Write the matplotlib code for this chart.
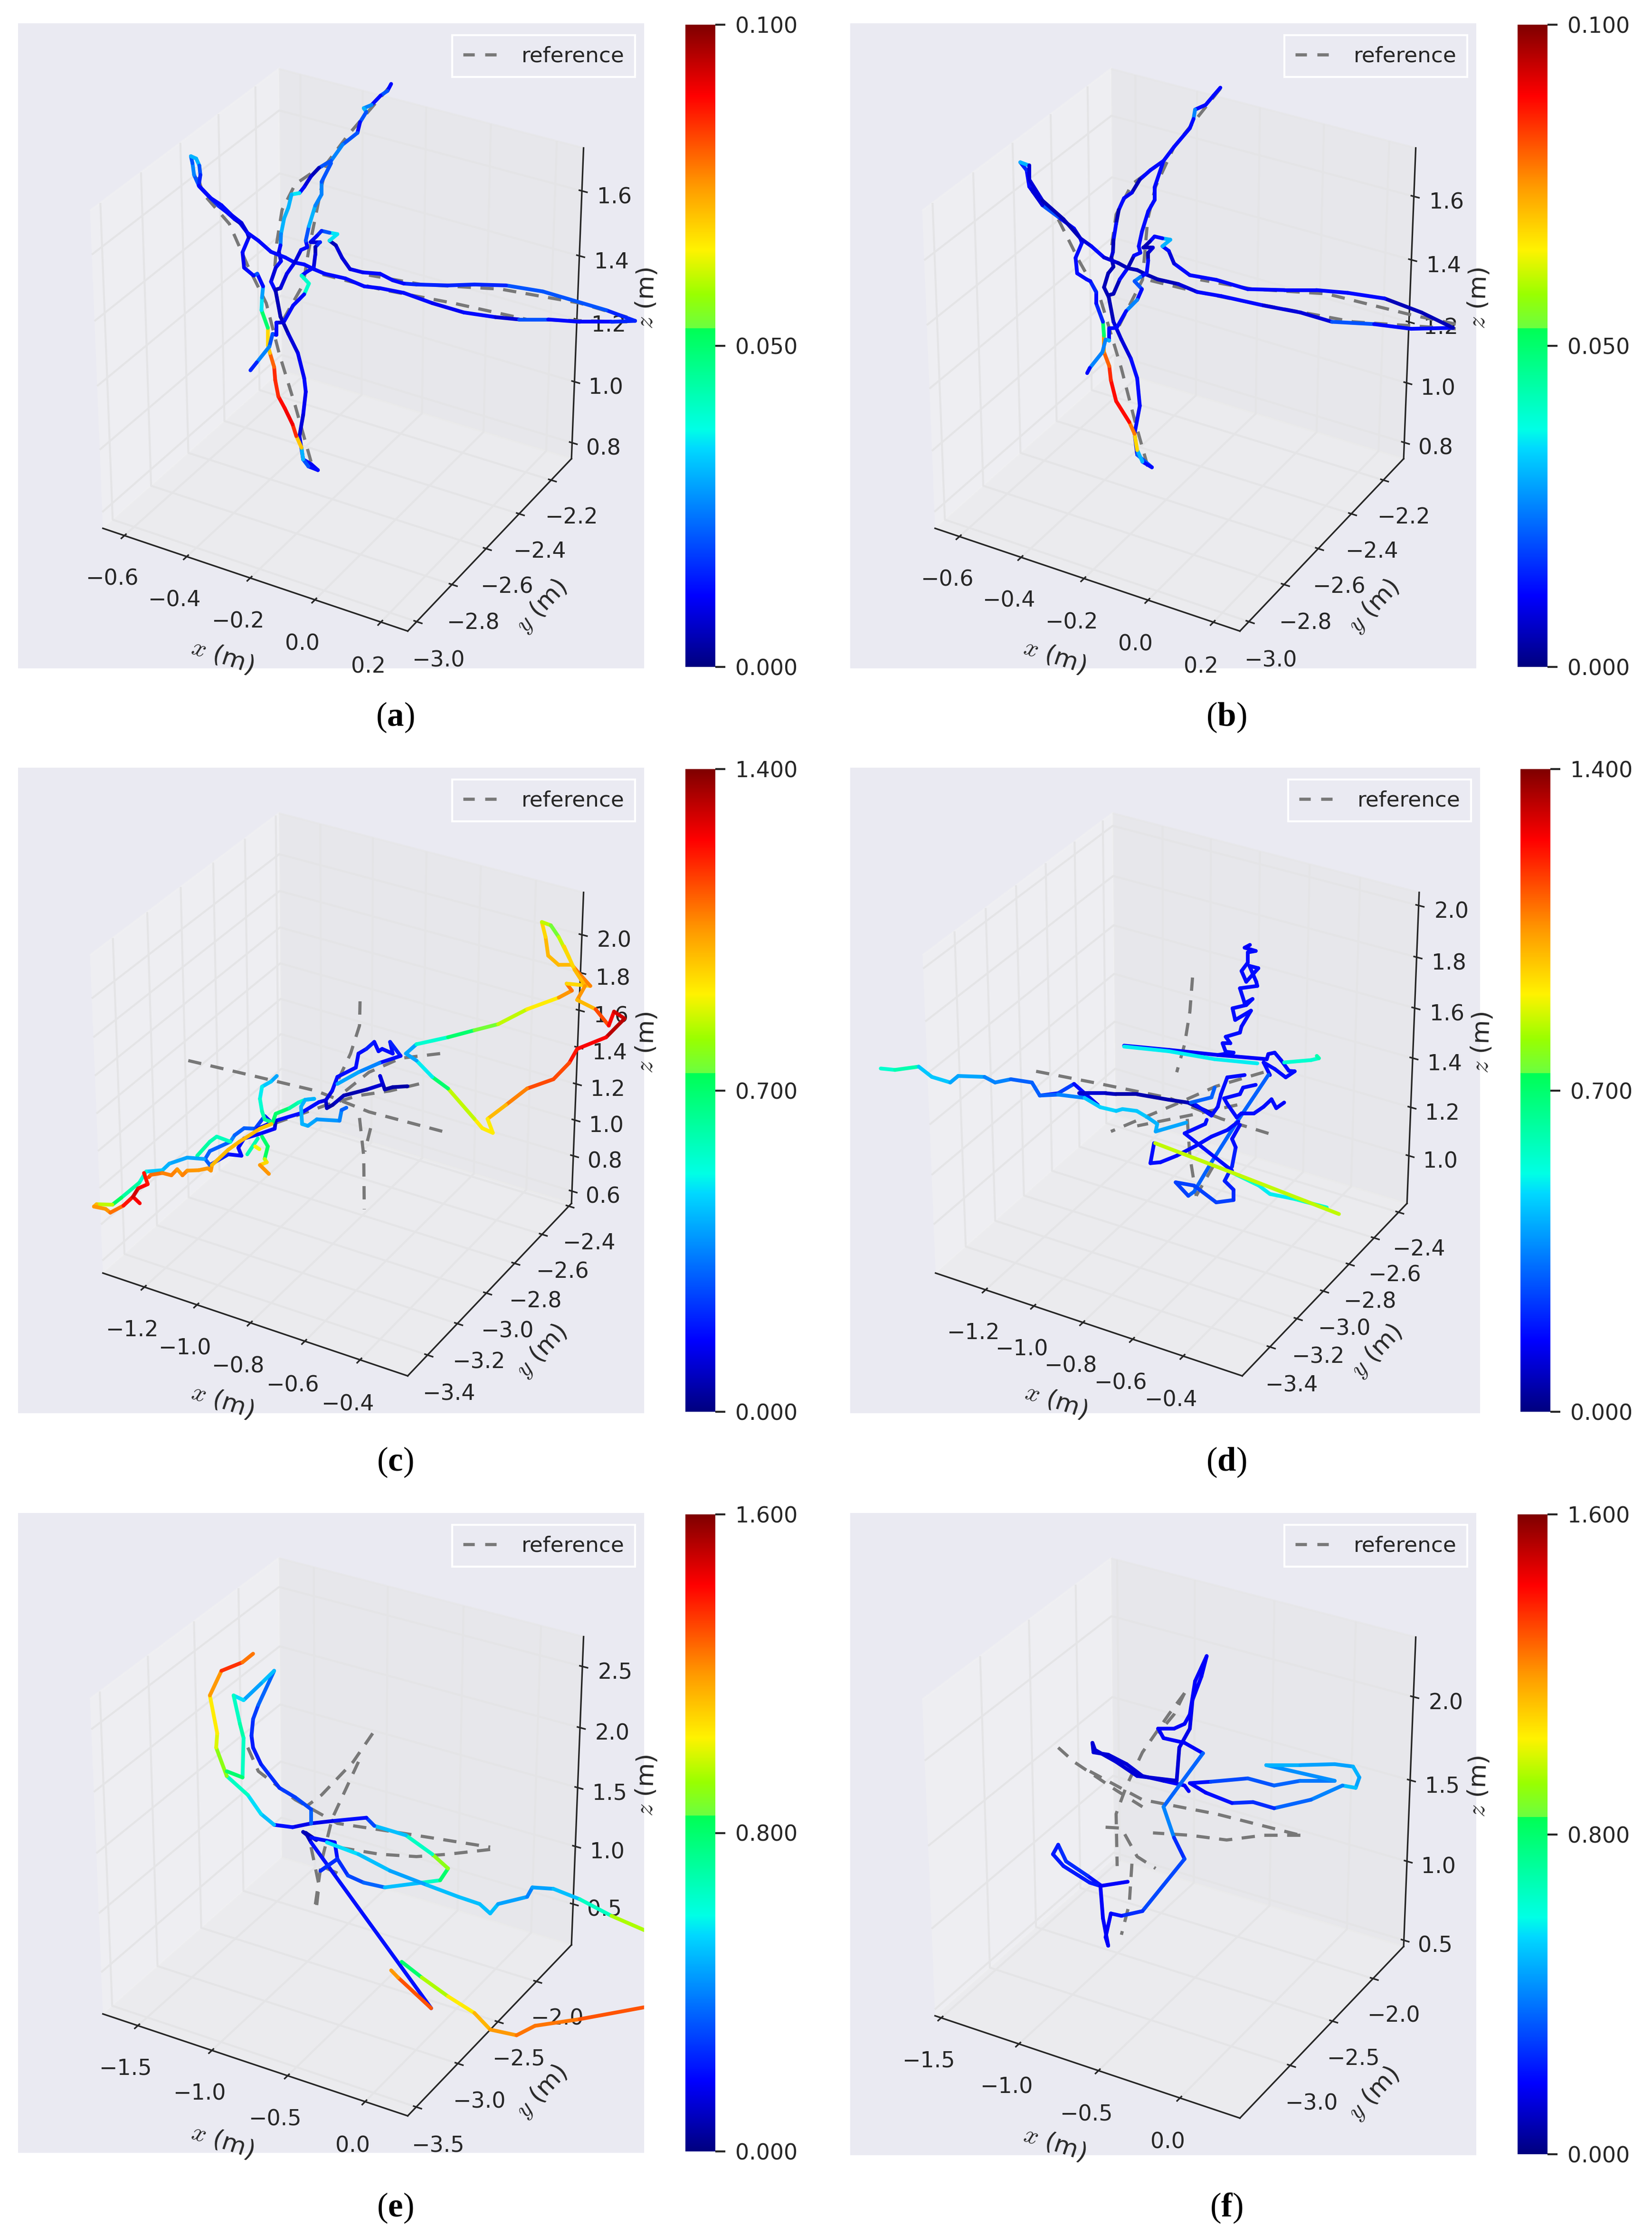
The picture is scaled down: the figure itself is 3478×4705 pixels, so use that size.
import matplotlib
matplotlib.use("Agg")
import matplotlib.pyplot as plt
from matplotlib.collections import LineCollection
from matplotlib.cm import ScalarMappable
from matplotlib.colors import LinearSegmentedColormap, Normalize
from matplotlib.lines import Line2D
from matplotlib.patches import Rectangle
from mpl_toolkits.mplot3d import Axes3D
import numpy as np

W, H = 3478, 4705
plt.rcParams['font.family'] = 'DejaVu Sans'
plt.rcParams['font.size'] = 11
plt.rcParams['text.color'] = '#262626'
plt.rcParams['axes.labelcolor'] = '#262626'
plt.rcParams['axes.edgecolor'] = '#262626'
plt.rcParams['xtick.color'] = '#262626'
plt.rcParams['ytick.color'] = '#262626'
plt.rcParams['grid.color'] = '#e4e4e6'
plt.rcParams['grid.linewidth'] = 1.0
plt.rcParams['mathtext.fontset'] = 'custom'
plt.rcParams['mathtext.rm'] = 'Liberation Serif'
plt.rcParams['mathtext.bf'] = 'Liberation Serif:bold'

BG = '#eaeaf2'

# the page's jet has a visible step just above the middle
page_jet = LinearSegmentedColormap.from_list('page_jet', [
    (0, (0, 0, .5)), (.11, (0, 0, 1)), (.34, (0, .85, 1)), (.37, (0, 1, .9)), (.527, (0, 1, .33)), (.5275, (.42, 1, .25)),
    (.58, (.6, 1, 0)), (.65, (1, .95, 0)), (.75, (1, .6, 0)), (.89, (1, 0, 0)), (1, (.5, 0, 0))], N=512)

# tick values of each panel
x_ticks = {'a': [-0.6, -0.4, -0.2, 0.0, 0.2], 'b': [-0.6, -0.4, -0.2, 0.0, 0.2],
           'c': [-1.2, -1.0, -0.8, -0.6, -0.4], 'd': [-1.2, -1.0, -0.8, -0.6, -0.4],
           'e': [-1.5, -1.0, -0.5, 0.0], 'f': [-1.5, -1.0, -0.5, 0.0]}
y_ticks = {'a': [-3.0, -2.8, -2.6, -2.4, -2.2], 'b': [-3.0, -2.8, -2.6, -2.4, -2.2],
           'c': [-3.4, -3.2, -3.0, -2.8, -2.6, -2.4], 'd': [-3.4, -3.2, -3.0, -2.8, -2.6, -2.4],
           'e': [-3.5, -3.0, -2.5, -2.0], 'f': [-3.0, -2.5, -2.0]}
z_ticks = {'a': [0.8, 1.0, 1.2, 1.4, 1.6], 'b': [0.8, 1.0, 1.2, 1.4, 1.6],
           'c': [0.6, 0.8, 1.0, 1.2, 1.4, 1.6, 1.8, 2.0], 'd': [1.0, 1.2, 1.4, 1.6, 1.8, 2.0],
           'e': [0.5, 1.0, 1.5, 2.0, 2.5], 'f': [0.5, 1.0, 1.5, 2.0]}
# axis limits
x_lims = {'a': (-0.67, 0.28), 'b': (-0.68, 0.28), 'c': (-1.36, -0.23), 'd': (-1.41, -0.17), 'e': (-1.74, 0.27), 'f': (-1.54, 0.36)}
y_lims = {'a': (-3.05, -2.07), 'b': (-3.05, -2.07), 'c': (-3.53, -2.38), 'd': (-3.6, -2.33), 'e': (-3.6, -1.53), 'f': (-3.57, -1.61)}
z_lims = {'a': (0.747, 1.73), 'b': (0.745, 1.75), 'c': (0.53, 2.22), 'd': (0.8, 2.05), 'e': (0.14, 2.74), 'f': (0.46, 2.35)}
err_max = {'a': 0.1, 'b': 0.1, 'c': 1.4, 'd': 1.4, 'e': 1.6, 'f': 1.6}

# panel boxes in output pixels (x0, y0, x1, y1) and the same box in trace units
panel_px = {'a': (38, 49, 1356, 1407), 'b': (1790, 49, 3108, 1407), 'c': (38, 1616, 1356, 2975),
            'd': (1790, 1616, 3116, 2975), 'e': (38, 3185, 1356, 4532), 'f': (1790, 3185, 3108, 4537)}
panel_tr = {'a': (34, 50, 1222, 1433), 'b': (45, 50, 1234, 1433), 'c': (34, 47, 1222, 1431),
            'd': (45, 47, 1241, 1431), 'e': (34, 45, 1222, 1395), 'f': (45, 45, 1234, 1400)}
cbar_px = {'a': (1443, 52, 1506, 1404), 'b': (3195, 52, 3258, 1404), 'c': (1443, 1619, 1506, 2972),
           'd': (3201, 1619, 3264, 2972), 'e': (1443, 3188, 1506, 4529), 'f': (3195, 3188, 3258, 4535)}
caption_px = {'a': (832, 1510), 'b': (2582, 1510), 'c': (832, 3078), 'd': (2582, 3078), 'e': (832, 4648), 'f': (2582, 4648)}

# estimated trajectories as seen on the page: (across, down, error)
path_a = [(742,180,.012),(735,195,.02),(722,205,.012),(705,225,.025),(690,232,.03),(695,240,.02),(683,262,.012),(678,285,.02),(650,310,.025),
          (628,345,.02),(605,360,.005),(590,378,.008),(577,401,.012),(568,414,.035),(553,417,.03),(547,445,.03),(539,468,.03),(533,502,.025),
          (532,526,.012),(529,540,.008),(533,560,.012),(523,574,.008),(514,604,.012),(523,625,.005),(532,679,.005),(547,716,.008),(565,757,.01),
          (577,811,.012),(580,840,.01),(575,890,.008),(568,935,.01),(575,985,.012),(590,995,.01),(603,1008,.012)]
path2_a = [(603,1008,.012),(585,1000,.02),(575,985,.03),(572,960,.07),(562,935,.085),(555,910,.09),(540,875,.088),(528,850,.085),(522,815,.085),
           (520,787,.08),(512,757,.07),(508,740,.068),(508,703,.05),(496,665,.035),(497,638,.028),(499,614,.012),(488,587,.02),(481,591,.012),
           (463,574,.01),(460,541,.012),(472,509,.006),(469,499,.012),(455,478,.005),(445,470,.012),(430,455,.012),(415,442,.015),(395,420,.012),
           (378,400,.02),(368,375,.025),(365,350,.02),(362,335,.03),(372,340,.03),(378,355,.02),(380,375,.015),(377,398,.012),(400,425,.012),
           (420,440,.012),(440,462,.01),(458,478,.008),(469,499,.012),(490,516,.012),(514,540,.012),(541,552,.012),(559,563,.012),(577,567,.012),
           (595,577,.012),(616,587,.012),(655,597,.012),(691,614,.012),(721,618,.012),(766,628,.012),(820,650,.01),(880,670,.012),(940,680,.008),
           (985,685,.02),(1040,685,.012),(1100,690,.012),(1160,690,.015),(1205,688,.015),(1150,665,.02),(1090,645,.02),(1030,625,.02),(960,612,.015),
           (900,610,.015),(850,612,.015),(790,610,.015),(766,608,.012),(745,601,.012),(721,587,.012),(688,584,.01),(664,577,.008),(649,553,.008),
           (637,526,.005),(625,516,.035),(640,502,.035),(625,499,.02),(610,495,.015),(601,506,.012),(589,519,.008),(607,519,.015),(598,530,.005),
           (598,546,.008),(595,574,.012),(583,582,.012),(572,591,.04),(586,608,.04),(577,631,.012),(556,655,.012),(538,691,.008),(524,692,.012),
           (524,718,.012),(517,716,.02),(511,743,.025),(487,777,.015),(475,794,.01)]
path3_a = [(523,621,.005),(532,618,.008),(544,587,.01),(559,563,.008),(571,536,.012),(583,530,.012),(580,516,.02),(586,485,.03),(598,441,.025),
           (610,417,.025),(610,390,.02),(628,350,.02)]
ref_a = [(590,990),(560,870),(530,760),(505,650),(470,570),(435,480),(385,415),(370,360)]
ref2_a = [(740,185),(660,290),(620,350),(610,400),(585,540),(575,610),(535,690)]
ref3_a = [(625,345),(560,395),(535,450),(525,520),(520,590)]
ref4_a = [(1190,680),(1100,650),(950,620),(800,610),(700,590)]
ref5_a = [(1190,690),(1000,685),(860,650),(720,620),(600,585)]

path_b = [(748,188,.012),(735,205,.012),(720,225,.012),(700,235,.025),(697,255,.012),(690,275,.012),(660,315,.012),(640,345,.012),(615,365,.012),
          (595,385,.005),(580,413,.01),(565,425,.012),(555,450,.005),(550,480,.012),(545,515,.005),(544,540,.008),(541,552,.005),(545,572,.005),
          (535,586,.005),(527,616,.005),(536,637,.005),(545,690,.008),(560,728,.008),(578,769,.012),(590,811,.012),(595,870,.012),(585,930,.012),
          (590,975,.02),(618,1002,.012)]
path2_b = [(618,1002,.012),(600,990,.03),(590,965,.068),(585,930,.078),(575,905,.088),(550,860,.088),(540,815,.085),(537,785,.08),(527,755,.075),
           (527,720,.05),(525,690,.015),(512,650,.012),(512,626,.015),(501,603,.012),(494,599,.012),(476,586,.012),(473,553,.012),(485,521,.012),
           (482,511,.008),(470,490,.012),(440,465,.02),(410,440,.008),(385,400,.012),(380,365,.015),(368,348,.03),(385,355,.008),(385,385,.008),
           (410,430,.005),(450,470,.005),(482,511,.008),(503,528,.012),(527,552,.008),(554,564,.005),(572,575,.005),(590,579,.005),(608,589,.005),
           (629,599,.005),(668,609,.008),(704,626,.012),(750,635,.012),(830,655,.008),(900,670,.008),(960,690,.02),(1040,695,.012),(1110,705,.012),
           (1190,703,.005),(1130,670,.005),(1060,640,.012),(990,628,.012),(930,622,.012),(870,622,.012),(800,620,.012),(740,600,.012),(690,590,.012),
           (660,565,.008),(650,538,.012),(638,528,.03),(653,514,.03),(638,511,.012),(623,507,.012),(614,518,.005),(602,531,.005),(620,531,.008),
           (611,542,.005),(611,558,.012),(608,586,.012),(596,594,.025),(585,603,.02),(599,620,.012),(590,643,.025),(569,667,.012),(551,703,.012),
           (537,704,.012),(537,730,.03),(530,728,.025),(524,755,.025),(500,789,.012),(495,800,.008)]
path3_b = [(536,633,.005),(545,630,.005),(557,599,.012),(572,575,.005),(584,548,.012),(596,542,.012),(593,528,.012),(599,497,.012),(611,453,.012),
           (623,429,.012),(623,402,.012),(640,345,.012)]
ref_b = [(610,1000),(585,900),(560,790),(520,640),(480,560),(440,470),(390,410)]
ref2_b = [(748,190),(660,315),(625,400),(610,470),(600,600),(555,700)]
ref3_b = [(640,345),(580,395),(550,460),(540,540)]
ref4_b = [(1195,695),(1110,675),(950,630),(810,620),(710,600)]
ref5_b = [(1195,705),(1000,690),(810,650),(700,625),(610,600)]

path_c = [(773,730,.05),(745,732,.05),(730,737,.07),(721,708,.12),(726,726,.1),(696,737,.06),(652,750,.08),(631,770,.05),(620,777,.08),(618,760,.12),
          (605,764,.17),(570,788,.17),(523,804,.1),(521,821,.15),(493,832,.17),(463,842,.17),(452,862,.17),(458,879,.17),(433,876,.2),(398,899,.3),
          (389,886,.3),(398,869,.3),(437,849,.35),(445,835,.3),(463,820,.3),(484,821,.25),(502,794,.17),(515,808,.15),(489,821,.15)]
path2_c = [(525,708,.4),(514,720,.45),(497,731,.5),(493,757,.55),(497,784,.6),(502,801,.65),(517,808,.7),(523,789,.7),(549,777,.62),(566,765,.58),
           (579,759,.45),(596,757,.42),(579,759,.42),(571,774,.42),(573,811,.42),(584,815,.4),(601,801,.38),(644,804,.35),(648,781,.3),(657,776,.27)]
path3_c = [(618,760,.12),(630,740,.17),(640,710,.17),(675,690,.17),(680,660,.17),(695,650,.2),(710,635,.17),(718,655,.17),(725,650,.17),(745,660,.17),
           (740,635,.2),(760,665,.17),(720,680,.35),(680,700,.4),(640,725,.35)]
path4_c = [(374,879,.62),(398,849,.6),(411,838,.58),(437,849,.55)]
path5_c = [(387,886,.4),(355,883,.4),(321,896,.42),(308,910,.45),(277,913,.55),(264,937,.62),(230,969,.72),(213,984,.85),(183,983,1.0),(178,988,1.05),
           (200,993,1.05),(209,1001,1.1),(234,986,1.22),(252,967,1.25),(265,981,1.33)]
path6_c = [(252,967,1.3),(262,949,1.25),(280,940,1.22),(273,916,1.22)]
path7_c = [(282,925,1.15),(286,920,1.1),(308,916,1.08),(325,921,1.08),(336,908,1.05),(346,921,1.08),(355,911,1.05),(377,910,1.05),(394,906,1.05),
           (400,911,1.05),(402,899,1.0),(433,866,1.0),(454,849,1.0),(493,821,.98),(515,811,.92)]
path8_c = [(497,838,.7),(508,859,.72),(502,886,.85),(506,893,.95),(493,899,1.05),(510,918,1.1)]
path9_c = [(469,876,.6),(489,842,.62)]
path10_c = [(484,859,.9),(492,865,.9)]
path11_c = [(770,660,.4),(790,640,.55),(850,625,.7),(900,610,.75),(945,597,.85),(1000,565,.92),(1060,540,1.05),(1085,525,1.1),
            (1075,510,.95),(1120,515,1.08),(1100,490,1.1),(1085,470,1.0),(1060,470,1.0),(1040,450,1.0),(1035,410,.95),(1028,378,.85),
            (1045,385,.75),(1060,410,.85),(1080,455,.9),(1070,430,.95),(1090,480,1.0),(1110,515,1.05),(1095,545,1.0),(1130,565,1.15),
            (1155,600,1.25),(1165,570,1.3),(1185,585,1.33),(1150,625,1.25),(1095,650,1.22),(1080,680,1.15),(1050,715,1.15),(1000,735,1.08),
            (960,770,1.0),(925,800,.92),(935,830,.92),(915,820,.92),(900,800,.85),(850,735,.7),(820,710,.5),(790,675,.4),(770,660,.3)]
ref_c = [(683,548),(682,600),(665,660),(640,720)]
ref2_c = [(682,798),(690,880),(691,994)]
ref3_c = [(703,820),(692,870)]
ref4_c = [(357,675),(470,705),(600,740),(700,785),(850,830)]
ref5_c = [(835,660),(760,670),(700,700),(650,745)]
ref6_c = [(795,725),(740,740),(680,750),(620,770),(520,810)]

path_d = [(103,692,.55),(130,695,.6),(175,688,.45),(200,710,.45),(235,722,.4),(250,708,.4),(300,710,.35),(320,722,.35),(350,715,.3),
          (390,722,.3),(405,750,.2),(440,745,.25),(470,725,.17),(490,745,.15),(515,770,.14),(480,745,.1),(530,745,.08),(550,747,.06),(589,747,.06),
          (650,759,.06),(686,765,.08),(731,788,.08)]
path2_d = [(804,427,.15),(794,433,.15),(815,440,.17),(800,443,.17),(800,465,.17),(788,483,.17),(797,506,.17),(820,477,.17),(803,472,.17),(816,506,.17),
           (818,515,.17),(785,520,.17),(794,552,.17),(809,543,.17),(797,556,.17),(771,563,.17),(776,588,.17),(806,568,.17),(788,602,.17),(785,615,.17),
           (758,624,.17),(767,638,.17),(752,638,.17),(758,656,.17),(773,658,.17),(743,663,.17)]
path3_d = [(565,643,.17),(650,652,.15),(743,663,.15),(836,672,.15),(839,661,.15),(851,658,.17),(863,674,.17),(878,697,.17),(889,698,.17),(872,711,.17),
           (851,693,.17),(830,679,.17),(842,706,.2)]
path4_d = [(565,645,.5),(650,655,.5),(737,672,.5),(818,681,.5)]
path5_d = [(869,679,.55),(920,674,.55),(935,670,.6),(931,665,.6)]
path6_d = [(839,706,.3),(782,802,.3),(731,893,.3),(698,956,.3),(687,965,.25),(663,936,.25),(698,943,.25),(740,979,.25),(773,974,.22),(773,952,.2),
           (756,933,.2),(761,922,.2),(770,902,.2),(777,861,.17),(770,843,.17),(785,813,.17)]
path7_d = [(869,765,.15),(854,777,.17),(845,758,.17),(830,774,.17),(812,788,.17),(788,788,.17),(779,797,.17),(761,768,.17),(755,756,.17),(785,747,.17),
           (791,733,.17),(815,727,.17)]
path8_d = [(794,706,.17),(761,711,.17),(749,747,.17),(743,774,.17),(731,793,.17),(701,770,.17)]
path9_d = [(692,765,.3),(731,754,.3),(737,733,.3)]
path10_d = [(405,750,.3),(440,748,.35),(490,755,.45),(520,775,.47),(550,783,.45),(562,779,.45),(589,783,.45),(610,797,.42),(628,811,.42),(625,827,.4),(683,808,.35)]
path11_d = [(722,802,.17),(719,811,.17),(680,831,.17),(770,911,.17)]
path12_d = [(782,806,.17),(761,824,.17),(731,838,.17),(701,858,.17),(665,879,.17),(634,893,.17),(615,895,.17),(622,852,.17)]
path13_d = [(770,915,.55),(821,943,.5),(842,961,.5),(890,972,.55),(950,990,.7)]
path14_d = [(624,852,.85),(770,915,.85),(973,1004,.85)]
ref_d = [(695,497),(690,570),(680,640),(665,700)]
ref2_d = [(685,800),(690,880),(702,965)]
ref3_d = [(735,900),(702,965)]
ref4_d = [(398,698),(520,725),(650,755),(750,800),(850,835)]
ref5_d = [(830,700),(740,730),(660,770),(540,827)]
ref6_d = [(780,770),(700,790),(590,815)]

path_e = [(583,725,.06),(575,718,.08),(600,735,.06),(580,720,.08),(590,740,.2),(818,1090,.18)]
path2_e = [(818,1090,1.3),(755,1025,1.2),(742,1010,.65)]
path3_e = [(762,992,.8),(800,1025,.95),(850,1065,1.05),(900,1100,1.15),(930,1135,1.2),(980,1147,1.25),(1015,1127,1.25),(1100,1113,1.3),(1222,1088,1.4)]
path4_e = [(590,730,.2),(635,740,.2),(640,775,.2),(608,800,.25),(640,775,.25),(660,810,.3),(690,825,.35),(730,835,.5),(800,825,.65),
           (835,820,.8),(850,795,.9),(820,765,.65),(770,725,.5),(710,705,.3),(695,688,.2),(630,695,.15),(590,700,.15),(555,708,.2),
           (520,703,.5),(495,680,.55),(470,640,.65),(430,600,.9),(410,540,1.0),(412,510,1.05),(398,430,1.2),(420,378,1.35),(460,360,1.25),(480,342,1.2)]
path5_e = [(620,740,.55),(680,765,.5),(740,800,.45),(810,830,.5),(870,855,.5),(910,870,.5),(930,890,.5),(945,870,.45),(1000,855,.4),
           (1010,835,.45),(1050,838,.5),(1100,860,.65),(1160,895,.95),(1222,925,1.1)]
path6_e = [(590,700,.35),(590,670,.3),(560,645,.28),(530,625,.25),(495,575,.22),(480,540,.22),(477,515,.25),(480,480,.28),(490,450,.35),(520,378,.5),
           (495,405,.45),(462,440,.55),(443,430,.65),(455,490,.7),(462,520,.65),(460,603,.8),(430,590,.9)]
ref_e = [(707,510),(670,570),(610,640),(580,665)]
ref2_e = [(680,570),(630,690),(610,780),(597,880)]
ref3_e = [(470,540),(490,590),(560,650),(640,700),(760,720),(930,750)]
ref4_e = [(930,755),(850,765),(790,770),(720,765),(640,750)]
ref5_e = [(590,750),(605,830),(600,880)]
ref6_e = [(640,805),(610,790)]

path_f = [(688,632,.17),(680,620,.17),(640,610,.12),(600,600,.12),(570,575,.12),(535,555,.12),(507,550,.12),(505,530,.12),(510,545,.12),
          (550,570,.12),(590,600,.12),(665,610,.12),(670,540,.15),(690,500,.15),(695,440,.17),(712,390,.17),(722,347,.17),(700,400,.17),
          (690,470,.17),(680,490,.17),(660,500,.17),(630,500,.17),(640,520,.17),(680,530,.17),(715,552,.35),(640,665,.4),(660,730,.25),
          (680,775,.3),(640,830,.3),(600,885,.25),(560,895,.2),(540,890,.17),(530,940,.17),(535,958,.17),(525,900,.17),(520,830,.2),
          (495,810,.25),(455,780,.25),(440,745,.22),(430,765,.22),(450,790,.22),(500,825,.22),(520,832,.17),(572,823,.1)]
path2_f = [(690,615,.2),(730,612,.3),(800,605,.32),(850,620,.35),(900,610,.38),(965,610,.42),(835,577,.48),(900,577,.45),(965,575,.45),
           (1000,580,.48),(1012,603,.45),(1005,625,.5),(980,620,.4),(920,650,.35),(850,668,.25),(810,655,.25),(770,657,.2),(720,635,.17),(690,615,.17)]
ref_f = [(440,540),(470,570),(550,630),(600,665)]
ref2_f = [(500,590),(600,650),(740,680),(900,725)]
ref3_f = [(900,725),(830,725),(760,735),(690,725),(620,720)]
ref4_f = [(680,425),(650,470),(600,550),(570,620),(550,680),(552,790)]
ref5_f = [(680,425),(660,470),(630,510)]
ref6_f = [(530,708),(560,710),(590,770),(625,795)]
ref7_f = [(580,785),(575,870),(560,935)]

paths = {'a': [path_a, path2_a, path3_a], 'b': [path_b, path2_b, path3_b],
         'c': [path_c, path2_c, path3_c, path4_c, path5_c, path6_c, path7_c, path8_c, path9_c, path10_c, path11_c],
         'd': [path_d, path2_d, path3_d, path4_d, path5_d, path6_d, path7_d, path8_d, path9_d, path10_d, path11_d, path12_d, path13_d, path14_d],
         'e': [path_e, path2_e, path3_e, path4_e, path5_e, path6_e], 'f': [path_f, path2_f]}
refs = {'a': [ref_a, ref2_a, ref3_a, ref4_a, ref5_a], 'b': [ref_b, ref2_b, ref3_b, ref4_b, ref5_b],
        'c': [ref_c, ref2_c, ref3_c, ref4_c, ref5_c, ref6_c], 'd': [ref_d, ref2_d, ref3_d, ref4_d, ref5_d, ref6_d],
        'e': [ref_e, ref2_e, ref3_e, ref4_e, ref5_e, ref6_e], 'f': [ref_f, ref2_f, ref3_f, ref4_f, ref5_f, ref6_f, ref7_f]}


def fig_rect(box):
    x0, y0, x1, y1 = box
    return [x0 / W, 1 - y1 / H, (x1 - x0) / W, (y1 - y0) / H]


fig = plt.figure(figsize=(W / 300, H / 300), dpi=300)

for name in 'abcdef':
    rect = fig_rect(panel_px[name])
    fig.add_artist(Rectangle(rect[:2], rect[2], rect[3], transform=fig.transFigure, facecolor=BG, edgecolor='none', zorder=-1))

    # the frame
    x0, y0, x1, y1 = panel_px[name]
    ax = fig.add_axes(fig_rect((x0 + 3, y0 + 6, x1 + 3, y1 + 6)), projection='3d', zorder=1)
    ax.apply_aspect = lambda position=None: None  # stretch box to the panel like older matplotlib
    ax.set_box_aspect((1, 1, 1), zoom=0.945)
    ax.view_init(30, -60)
    ax.patch.set_visible(False)
    ax.set_xlim(*x_lims[name], view_margin=0)
    ax.set_ylim(*y_lims[name], view_margin=0)
    ax.set_zlim(*z_lims[name], view_margin=0)
    ax.set_xticks(x_ticks[name])
    ax.set_yticks(y_ticks[name])
    ax.set_zticks(z_ticks[name])
    ax.tick_params(axis='both', labelsize=11)
    ax.set_xlabel('$x$ (m)', math_fontfamily='cm', labelpad=6, fontsize=12.5)
    ax.set_ylabel('$y$ (m)', math_fontfamily='cm', labelpad=6, fontsize=12.5)
    ax.set_zlabel('$z$ (m)', math_fontfamily='cm', labelpad=4, fontsize=12.5)

    # trajectories on top of the frame
    tr = panel_tr[name]
    over = fig.add_axes(rect, zorder=2)
    over.patch.set_visible(False)
    over.set_axis_off()
    over.set_xlim(tr[0], tr[2])
    over.set_ylim(tr[3], tr[1])
    for r in refs[name]:
        r = np.array(r)
        over.plot(r[:, 0], r[:, 1], color='#787878', lw=1.6, ls=(0, (4.2, 3.0)))
    norm = Normalize(0, err_max[name])
    for p in paths[name]:
        p = np.array(p)
        pts = p[:, :2].reshape(-1, 1, 2)
        segs = np.concatenate([pts[:-1], pts[1:]], axis=1)
        lc = LineCollection(segs, cmap=page_jet, norm=norm, linewidths=1.9, capstyle='round', joinstyle='round')
        lc.set_array(p[:-1, 2])
        over.add_collection(lc)
    handle = Line2D([], [], color='#787878', lw=1.6, ls=(0, (3.6, 3.3)))
    leg = over.legend([handle], ['reference'], loc='upper right', bbox_to_anchor=(1 - 19 / 1318, 1 - 25 / 1358),
                      borderaxespad=0, frameon=True, fancybox=False, facecolor=BG, edgecolor='white', framealpha=1,
                      fontsize=10.9, handlelength=1.6, handletextpad=1.1, borderpad=0.5)
    leg.get_frame().set_linewidth(1.0)

    # colour bar
    cax = fig.add_axes(fig_rect(cbar_px[name]), zorder=2)
    cb = fig.colorbar(ScalarMappable(norm=norm, cmap=page_jet), cax=cax, ticks=[0, err_max[name] / 2, err_max[name]], format='%.3f')
    cb.outline.set_visible(False)
    cax.tick_params(length=5, width=1.0, pad=5, labelsize=11)

    cx, cy = caption_px[name]
    fig.text(cx / W, 1 - cy / H, r'($\mathbf{%s}$)' % name, family='Liberation Serif', fontsize=17, ha='center', va='center', color='black')

fig.savefig('out.png', dpi=300, facecolor='white')
